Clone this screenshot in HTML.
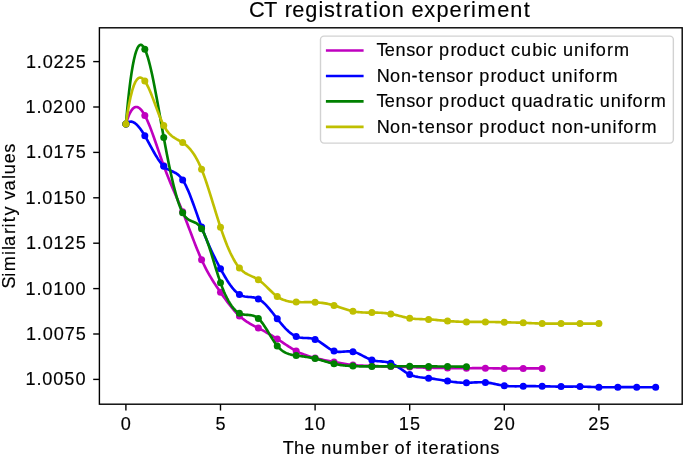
<!DOCTYPE html>
<html><head><meta charset="utf-8"><style>
html,body{margin:0;padding:0;background:#fff;}
body{width:685px;height:457px;overflow:hidden;font-family:"Liberation Sans", sans-serif;}
svg{display:block;will-change:transform;}
</style></head><body>
<svg width="685" height="457" viewBox="0 0 685 457">
<rect x="0" y="0" width="685" height="457" fill="#fff"/>
<defs><clipPath id="c"><rect x="99.4" y="27.8" width="582.8000000000001" height="376.4"/></clipPath></defs>
<g clip-path="url(#c)">
<polyline points="125.90,124.00 127.29,119.51 128.68,115.77 130.08,112.73 131.47,110.37 132.86,108.64 134.25,107.53 135.64,106.99 137.04,106.99 138.43,107.50 139.82,108.49 141.21,109.91 142.61,111.74 144.00,113.94 145.39,116.48 146.78,119.32 148.17,122.44 149.57,125.80 150.96,129.36 152.35,133.10 153.74,136.97 155.13,140.94 156.53,144.99 157.92,149.07 159.31,153.16 160.70,157.22 162.09,161.21 163.49,165.10 164.88,168.87 166.27,172.52 167.66,176.06 169.06,179.51 170.45,182.88 171.84,186.20 173.23,189.47 174.62,192.72 176.02,195.96 177.41,199.21 178.80,202.48 180.19,205.78 181.58,209.15 182.98,212.59 184.37,216.11 185.76,219.69 187.15,223.32 188.54,226.98 189.94,230.65 191.33,234.32 192.72,237.98 194.11,241.60 195.51,245.16 196.90,248.66 198.29,252.07 199.68,255.38 201.07,258.57 202.47,261.63 203.86,264.55 205.25,267.34 206.64,270.02 208.03,272.59 209.43,275.06 210.82,277.44 212.21,279.74 213.60,281.97 214.99,284.14 216.39,286.26 217.78,288.33 219.17,290.37 220.56,292.39 221.96,294.39 223.35,296.37 224.74,298.32 226.13,300.24 227.52,302.13 228.92,303.97 230.31,305.76 231.70,307.50 233.09,309.18 234.48,310.79 235.88,312.33 237.27,313.80 238.66,315.18 240.05,316.48 241.44,317.69 242.84,318.82 244.23,319.88 245.62,320.87 247.01,321.80 248.41,322.68 249.80,323.52 251.19,324.32 252.58,325.09 253.97,325.83 255.37,326.56 256.76,327.28 258.15,328.00 259.54,328.73 260.93,329.46 262.33,330.20 263.72,330.94 265.11,331.70 266.50,332.47 267.89,333.25 269.29,334.05 270.68,334.86 272.07,335.68 273.46,336.52 274.86,337.38 276.25,338.25 277.64,339.15 279.03,340.06 280.42,340.98 281.82,341.92 283.21,342.86 284.60,343.80 285.99,344.73 287.38,345.66 288.78,346.57 290.17,347.46 291.56,348.34 292.95,349.18 294.34,349.99 295.74,350.76 297.13,351.49 298.52,352.19 299.91,352.84 301.31,353.45 302.70,354.03 304.09,354.58 305.48,355.09 306.87,355.58 308.27,356.04 309.66,356.48 311.05,356.90 312.44,357.29 313.83,357.67 315.23,358.03 316.62,358.38 318.01,358.72 319.40,359.04 320.79,359.36 322.19,359.66 323.58,359.96 324.97,360.25 326.36,360.53 327.76,360.81 329.15,361.08 330.54,361.34 331.93,361.61 333.32,361.87 334.72,362.13 336.11,362.39 337.50,362.65 338.89,362.90 340.28,363.15 341.68,363.39 343.07,363.63 344.46,363.86 345.85,364.07 347.25,364.28 348.64,364.48 350.03,364.66 351.42,364.83 352.81,364.99 354.21,365.13 355.60,365.25 356.99,365.36 358.38,365.45 359.77,365.54 361.17,365.62 362.56,365.68 363.95,365.74 365.34,365.79 366.73,365.84 368.13,365.89 369.52,365.93 370.91,365.97 372.30,366.01 373.70,366.06 375.09,366.10 376.48,366.15 377.87,366.19 379.26,366.24 380.66,366.28 382.05,366.33 383.44,366.37 384.83,366.42 386.22,366.46 387.62,366.51 389.01,366.55 390.40,366.59 391.79,366.63 393.18,366.67 394.58,366.70 395.97,366.74 397.36,366.77 398.75,366.81 400.15,366.84 401.54,366.88 402.93,366.91 404.32,366.95 405.71,366.99 407.11,367.02 408.50,367.06 409.89,367.11 411.28,367.15 412.67,367.19 414.07,367.24 415.46,367.29 416.85,367.33 418.24,367.38 419.63,367.43 421.03,367.48 422.42,367.52 423.81,367.56 425.20,367.61 426.60,367.65 427.99,367.68 429.38,367.72 430.77,367.75 432.16,367.78 433.56,367.81 434.95,367.83 436.34,367.85 437.73,367.87 439.12,367.89 440.52,367.91 441.91,367.93 443.30,367.95 444.69,367.96 446.08,367.98 447.48,368.00 448.87,368.02 450.26,368.04 451.65,368.06 453.05,368.07 454.44,368.09 455.83,368.11 457.22,368.13 458.61,368.14 460.01,368.16 461.40,368.17 462.79,368.18 464.18,368.19 465.57,368.20 466.97,368.20 468.36,368.20 469.75,368.20 471.14,368.20 472.53,368.19 473.93,368.19 475.32,368.19 476.71,368.18 478.10,368.18 479.50,368.18 480.89,368.18 482.28,368.18 483.67,368.19 485.06,368.20 486.46,368.21 487.85,368.23 489.24,368.25 490.63,368.27 492.02,368.30 493.42,368.32 494.81,368.35 496.20,368.38 497.59,368.40 498.98,368.43 500.38,368.45 501.77,368.47 503.16,368.49 504.55,368.50 505.95,368.51 507.34,368.52 508.73,368.52 510.12,368.51 511.51,368.51 512.91,368.50 514.30,368.49 515.69,368.48 517.08,368.47 518.47,368.45 519.87,368.44 521.26,368.42 522.65,368.41 524.04,368.39 525.43,368.38 526.83,368.36 528.22,368.35 529.61,368.34 531.00,368.34 532.40,368.33 533.79,368.33 535.18,368.33 536.57,368.34 537.96,368.34 539.36,368.36 540.75,368.38 542.14,368.40" fill="none" stroke="#bf00bf" stroke-width="2.65" stroke-linejoin="round" stroke-linecap="butt"/>
<circle cx="125.90" cy="124.00" r="3.5" fill="#bf00bf"/>
<circle cx="144.82" cy="115.40" r="3.5" fill="#bf00bf"/>
<circle cx="163.74" cy="165.80" r="3.5" fill="#bf00bf"/>
<circle cx="182.66" cy="211.80" r="3.5" fill="#bf00bf"/>
<circle cx="201.58" cy="259.70" r="3.5" fill="#bf00bf"/>
<circle cx="220.50" cy="292.30" r="3.5" fill="#bf00bf"/>
<circle cx="239.42" cy="315.90" r="3.5" fill="#bf00bf"/>
<circle cx="258.34" cy="328.10" r="3.5" fill="#bf00bf"/>
<circle cx="277.26" cy="338.90" r="3.5" fill="#bf00bf"/>
<circle cx="296.18" cy="351.00" r="3.5" fill="#bf00bf"/>
<circle cx="315.10" cy="358.00" r="3.5" fill="#bf00bf"/>
<circle cx="334.02" cy="362.00" r="3.5" fill="#bf00bf"/>
<circle cx="352.94" cy="365.00" r="3.5" fill="#bf00bf"/>
<circle cx="371.86" cy="366.00" r="3.5" fill="#bf00bf"/>
<circle cx="390.78" cy="366.60" r="3.5" fill="#bf00bf"/>
<circle cx="409.70" cy="367.10" r="3.5" fill="#bf00bf"/>
<circle cx="428.62" cy="367.70" r="3.5" fill="#bf00bf"/>
<circle cx="447.54" cy="368.00" r="3.5" fill="#bf00bf"/>
<circle cx="466.46" cy="368.20" r="3.5" fill="#bf00bf"/>
<circle cx="485.38" cy="368.20" r="3.5" fill="#bf00bf"/>
<circle cx="504.30" cy="368.50" r="3.5" fill="#bf00bf"/>
<circle cx="523.22" cy="368.40" r="3.5" fill="#bf00bf"/>
<circle cx="542.14" cy="368.40" r="3.5" fill="#bf00bf"/>
<polyline points="125.90,124.00 127.67,122.54 129.44,121.77 131.22,121.62 132.99,122.06 134.76,123.02 136.53,124.45 138.30,126.30 140.07,128.51 141.85,131.03 143.62,133.80 145.39,136.77 147.16,139.89 148.93,143.11 150.70,146.36 152.48,149.60 154.25,152.76 156.02,155.81 157.79,158.67 159.56,161.31 161.34,163.66 163.11,165.67 164.88,167.30 166.65,168.57 168.42,169.59 170.19,170.45 171.97,171.24 173.74,172.05 175.51,172.98 177.28,174.13 179.05,175.59 180.82,177.45 182.60,179.81 184.37,182.73 186.14,186.18 187.91,190.08 189.68,194.35 191.46,198.92 193.23,203.72 195.00,208.66 196.77,213.68 198.54,218.71 200.31,223.65 202.09,228.45 203.86,233.06 205.63,237.48 207.40,241.72 209.17,245.80 210.95,249.73 212.72,253.51 214.49,257.18 216.26,260.72 218.03,264.16 219.80,267.51 221.58,270.77 223.35,273.95 225.12,277.01 226.89,279.93 228.66,282.68 230.43,285.25 232.21,287.61 233.98,289.73 235.75,291.59 237.52,293.16 239.29,294.42 241.07,295.36 242.84,296.02 244.61,296.46 246.38,296.74 248.15,296.91 249.92,297.04 251.70,297.19 253.47,297.41 255.24,297.77 257.01,298.32 258.78,299.13 260.55,300.22 262.33,301.57 264.10,303.14 265.87,304.91 267.64,306.85 269.41,308.91 271.19,311.07 272.96,313.30 274.73,315.57 276.50,317.84 278.27,320.07 280.04,322.26 281.82,324.37 283.59,326.40 285.36,328.31 287.13,330.09 288.90,331.73 290.67,333.20 292.45,334.48 294.22,335.56 295.99,336.42 297.76,337.05 299.53,337.47 301.31,337.73 303.08,337.88 304.85,337.96 306.62,338.02 308.39,338.10 310.16,338.25 311.94,338.51 313.71,338.93 315.48,339.55 317.25,340.40 319.02,341.43 320.79,342.59 322.57,343.85 324.34,345.15 326.11,346.44 327.88,347.69 329.65,348.85 331.43,349.86 333.20,350.69 334.97,351.29 336.74,351.66 338.51,351.84 340.28,351.87 342.06,351.80 343.83,351.68 345.60,351.53 347.37,351.42 349.14,351.37 350.92,351.43 352.69,351.65 354.46,352.06 356.23,352.65 358.00,353.38 359.77,354.21 361.55,355.11 363.32,356.05 365.09,356.99 366.86,357.90 368.63,358.75 370.40,359.49 372.18,360.10 373.95,360.55 375.72,360.88 377.49,361.11 379.26,361.29 381.04,361.44 382.81,361.59 384.58,361.78 386.35,362.03 388.12,362.40 389.89,362.89 391.67,363.55 393.44,364.38 395.21,365.35 396.98,366.42 398.75,367.57 400.52,368.75 402.30,369.96 404.07,371.14 405.84,372.27 407.61,373.31 409.38,374.25 411.16,375.04 412.93,375.70 414.70,376.23 416.47,376.67 418.24,377.02 420.01,377.29 421.79,377.52 423.56,377.71 425.33,377.88 427.10,378.05 428.87,378.23 430.64,378.44 432.42,378.67 434.19,378.92 435.96,379.19 437.73,379.47 439.50,379.77 441.28,380.06 443.05,380.36 444.82,380.66 446.59,380.95 448.36,381.23 450.13,381.49 451.91,381.74 453.68,381.97 455.45,382.18 457.22,382.37 458.99,382.52 460.77,382.64 462.54,382.73 464.31,382.79 466.08,382.80 467.85,382.78 469.62,382.71 471.40,382.63 473.17,382.53 474.94,382.43 476.71,382.34 478.48,382.27 480.25,382.23 482.03,382.24 483.80,382.30 485.57,382.42 487.34,382.61 489.11,382.86 490.89,383.16 492.66,383.49 494.43,383.85 496.20,384.22 497.97,384.58 499.74,384.94 501.52,385.27 503.29,385.56 505.06,385.80 506.83,385.98 508.60,386.12 510.37,386.21 512.15,386.27 513.92,386.30 515.69,386.30 517.46,386.29 519.23,386.27 521.01,386.24 522.78,386.21 524.55,386.18 526.32,386.17 528.09,386.16 529.86,386.16 531.64,386.17 533.41,386.18 535.18,386.19 536.95,386.22 538.72,386.24 540.49,386.27 542.27,386.30 544.04,386.34 545.81,386.37 547.58,386.41 549.35,386.44 551.13,386.48 552.90,386.51 554.67,386.54 556.44,386.56 558.21,386.58 559.98,386.60 561.76,386.60 563.53,386.60 565.30,386.59 567.07,386.58 568.84,386.57 570.61,386.56 572.39,386.56 574.16,386.55 575.93,386.56 577.70,386.57 579.47,386.59 581.25,386.63 583.02,386.67 584.79,386.73 586.56,386.79 588.33,386.85 590.10,386.92 591.88,386.98 593.65,387.05 595.42,387.11 597.19,387.16 598.96,387.20 600.74,387.23 602.51,387.25 604.28,387.26 606.05,387.27 607.82,387.27 609.59,387.26 611.37,387.25 613.14,387.23 614.91,387.22 616.68,387.21 618.45,387.20 620.22,387.19 622.00,387.18 623.77,387.18 625.54,387.18 627.31,387.18 629.08,387.18 630.86,387.18 632.63,387.19 634.40,387.19 636.17,387.20 637.94,387.20 639.71,387.21 641.49,387.21 643.26,387.22 645.03,387.22 646.80,387.22 648.57,387.22 650.34,387.22 652.12,387.22 653.89,387.21 655.66,387.20" fill="none" stroke="#0000ff" stroke-width="2.65" stroke-linejoin="round" stroke-linecap="butt"/>
<circle cx="125.90" cy="124.00" r="3.5" fill="#0000ff"/>
<circle cx="144.82" cy="135.80" r="3.5" fill="#0000ff"/>
<circle cx="163.74" cy="166.30" r="3.5" fill="#0000ff"/>
<circle cx="182.66" cy="179.90" r="3.5" fill="#0000ff"/>
<circle cx="201.58" cy="227.10" r="3.5" fill="#0000ff"/>
<circle cx="220.50" cy="268.80" r="3.5" fill="#0000ff"/>
<circle cx="239.42" cy="294.50" r="3.5" fill="#0000ff"/>
<circle cx="258.34" cy="298.90" r="3.5" fill="#0000ff"/>
<circle cx="277.26" cy="318.80" r="3.5" fill="#0000ff"/>
<circle cx="296.18" cy="336.50" r="3.5" fill="#0000ff"/>
<circle cx="315.10" cy="339.40" r="3.5" fill="#0000ff"/>
<circle cx="334.02" cy="351.00" r="3.5" fill="#0000ff"/>
<circle cx="352.94" cy="351.70" r="3.5" fill="#0000ff"/>
<circle cx="371.86" cy="360.00" r="3.5" fill="#0000ff"/>
<circle cx="390.78" cy="363.20" r="3.5" fill="#0000ff"/>
<circle cx="409.70" cy="374.40" r="3.5" fill="#0000ff"/>
<circle cx="428.62" cy="378.20" r="3.5" fill="#0000ff"/>
<circle cx="447.54" cy="381.10" r="3.5" fill="#0000ff"/>
<circle cx="466.46" cy="382.80" r="3.5" fill="#0000ff"/>
<circle cx="485.38" cy="382.40" r="3.5" fill="#0000ff"/>
<circle cx="504.30" cy="385.70" r="3.5" fill="#0000ff"/>
<circle cx="523.22" cy="386.20" r="3.5" fill="#0000ff"/>
<circle cx="542.14" cy="386.30" r="3.5" fill="#0000ff"/>
<circle cx="561.06" cy="386.60" r="3.5" fill="#0000ff"/>
<circle cx="579.98" cy="386.60" r="3.5" fill="#0000ff"/>
<circle cx="598.90" cy="387.20" r="3.5" fill="#0000ff"/>
<circle cx="617.82" cy="387.20" r="3.5" fill="#0000ff"/>
<circle cx="636.74" cy="387.20" r="3.5" fill="#0000ff"/>
<circle cx="655.66" cy="387.20" r="3.5" fill="#0000ff"/>
<polyline points="125.90,124.00 127.04,111.29 128.18,99.83 129.32,89.60 130.46,80.54 131.59,72.61 132.73,65.78 133.87,59.98 135.01,55.20 136.15,51.37 137.29,48.46 138.43,46.42 139.57,45.22 140.71,44.80 141.85,45.13 142.98,46.17 144.12,47.86 145.26,50.17 146.40,53.05 147.54,56.47 148.68,60.37 149.82,64.72 150.96,69.47 152.10,74.58 153.24,80.01 154.37,85.71 155.51,91.64 156.65,97.76 157.79,104.02 158.93,110.38 160.07,116.81 161.21,123.25 162.35,129.66 163.49,136.00 164.63,142.24 165.76,148.33 166.90,154.28 168.04,160.07 169.18,165.67 170.32,171.07 171.46,176.27 172.60,181.23 173.74,185.96 174.88,190.42 176.02,194.61 177.15,198.51 178.29,202.11 179.43,205.39 180.57,208.33 181.71,210.92 182.85,213.14 183.99,215.00 185.13,216.53 186.27,217.77 187.41,218.78 188.54,219.58 189.68,220.23 190.82,220.77 191.96,221.25 193.10,221.70 194.24,222.18 195.38,222.72 196.52,223.37 197.66,224.17 198.80,225.16 199.93,226.40 201.07,227.92 202.21,229.77 203.35,231.94 204.49,234.41 205.63,237.15 206.77,240.12 207.91,243.30 209.05,246.64 210.19,250.13 211.32,253.72 212.46,257.39 213.60,261.10 214.74,264.82 215.88,268.53 217.02,272.18 218.16,275.75 219.30,279.21 220.44,282.52 221.58,285.66 222.71,288.62 223.85,291.41 224.99,294.02 226.13,296.46 227.27,298.74 228.41,300.85 229.55,302.79 230.69,304.58 231.83,306.21 232.97,307.68 234.10,309.00 235.24,310.17 236.38,311.19 237.52,312.06 238.66,312.79 239.80,313.38 240.94,313.84 242.08,314.18 243.22,314.43 244.36,314.60 245.49,314.73 246.63,314.81 247.77,314.89 248.91,314.97 250.05,315.08 251.19,315.23 252.33,315.45 253.47,315.76 254.61,316.17 255.75,316.70 256.88,317.38 258.02,318.23 259.16,319.26 260.30,320.47 261.44,321.83 262.58,323.33 263.72,324.95 264.86,326.66 266.00,328.45 267.14,330.29 268.27,332.17 269.41,334.06 270.55,335.95 271.69,337.81 272.83,339.63 273.97,341.39 275.11,343.05 276.25,344.62 277.39,346.05 278.53,347.35 279.66,348.51 280.80,349.55 281.94,350.47 283.08,351.28 284.22,351.99 285.36,352.61 286.50,353.14 287.64,353.60 288.78,354.00 289.92,354.33 291.05,354.61 292.19,354.86 293.33,355.07 294.47,355.25 295.61,355.42 296.75,355.58 297.89,355.74 299.03,355.89 300.17,356.05 301.31,356.20 302.44,356.36 303.58,356.52 304.72,356.68 305.86,356.85 307.00,357.03 308.14,357.22 309.28,357.41 310.42,357.62 311.56,357.83 312.70,358.07 313.83,358.31 314.97,358.57 316.11,358.85 317.25,359.14 318.39,359.44 319.53,359.76 320.67,360.08 321.81,360.41 322.95,360.75 324.09,361.09 325.22,361.42 326.36,361.76 327.50,362.09 328.64,362.41 329.78,362.73 330.92,363.04 332.06,363.33 333.20,363.61 334.34,363.87 335.48,364.11 336.61,364.34 337.75,364.55 338.89,364.74 340.03,364.92 341.17,365.08 342.31,365.23 343.45,365.37 344.59,365.49 345.73,365.61 346.87,365.71 348.00,365.80 349.14,365.88 350.28,365.96 351.42,366.02 352.56,366.08 353.70,366.13 354.84,366.18 355.98,366.22 357.12,366.26 358.26,366.29 359.39,366.32 360.53,366.34 361.67,366.36 362.81,366.37 363.95,366.39 365.09,366.39 366.23,366.40 367.37,366.40 368.51,366.40 369.65,366.40 370.78,366.40 371.92,366.40 373.06,366.40 374.20,366.39 375.34,366.39 376.48,366.38 377.62,366.38 378.76,366.37 379.90,366.36 381.04,366.35 382.17,366.35 383.31,366.34 384.45,366.33 385.59,366.33 386.73,366.32 387.87,366.31 389.01,366.31 390.15,366.30 391.29,366.30 392.43,366.29 393.56,366.29 394.70,366.29 395.84,366.29 396.98,366.28 398.12,366.28 399.26,366.28 400.40,366.28 401.54,366.28 402.68,366.28 403.82,366.28 404.95,366.29 406.09,366.29 407.23,366.29 408.37,366.30 409.51,366.30 410.65,366.30 411.79,366.31 412.93,366.31 414.07,366.32 415.21,366.32 416.34,366.33 417.48,366.34 418.62,366.34 419.76,366.35 420.90,366.36 422.04,366.36 423.18,366.37 424.32,366.38 425.46,366.38 426.60,366.39 427.73,366.40 428.87,366.40 430.01,366.41 431.15,366.41 432.29,366.42 433.43,366.42 434.57,366.43 435.71,366.44 436.85,366.44 437.99,366.45 439.12,366.45 440.26,366.46 441.40,366.46 442.54,366.47 443.68,366.48 444.82,366.48 445.96,366.49 447.10,366.50 448.24,366.50 449.38,366.51 450.51,366.52 451.65,366.53 452.79,366.54 453.93,366.55 455.07,366.56 456.21,366.57 457.35,366.58 458.49,366.59 459.63,366.61 460.77,366.62 461.90,366.63 463.04,366.65 464.18,366.67 465.32,366.68 466.46,366.70" fill="none" stroke="#008000" stroke-width="2.65" stroke-linejoin="round" stroke-linecap="butt"/>
<circle cx="125.90" cy="124.00" r="3.5" fill="#008000"/>
<circle cx="144.82" cy="49.20" r="3.5" fill="#008000"/>
<circle cx="163.74" cy="137.40" r="3.5" fill="#008000"/>
<circle cx="182.66" cy="212.80" r="3.5" fill="#008000"/>
<circle cx="201.58" cy="228.70" r="3.5" fill="#008000"/>
<circle cx="220.50" cy="282.70" r="3.5" fill="#008000"/>
<circle cx="239.42" cy="313.20" r="3.5" fill="#008000"/>
<circle cx="258.34" cy="318.50" r="3.5" fill="#008000"/>
<circle cx="277.26" cy="345.90" r="3.5" fill="#008000"/>
<circle cx="296.18" cy="355.50" r="3.5" fill="#008000"/>
<circle cx="315.10" cy="358.60" r="3.5" fill="#008000"/>
<circle cx="334.02" cy="363.80" r="3.5" fill="#008000"/>
<circle cx="352.94" cy="366.10" r="3.5" fill="#008000"/>
<circle cx="371.86" cy="366.40" r="3.5" fill="#008000"/>
<circle cx="390.78" cy="366.30" r="3.5" fill="#008000"/>
<circle cx="409.70" cy="366.30" r="3.5" fill="#008000"/>
<circle cx="428.62" cy="366.40" r="3.5" fill="#008000"/>
<circle cx="447.54" cy="366.50" r="3.5" fill="#008000"/>
<circle cx="466.46" cy="366.70" r="3.5" fill="#008000"/>
<polyline points="125.90,124.00 127.48,113.28 129.06,104.16 130.65,96.55 132.23,90.37 133.81,85.51 135.39,81.90 136.97,79.44 138.56,78.03 140.14,77.59 141.72,78.03 143.30,79.26 144.88,81.19 146.47,83.72 148.05,86.77 149.63,90.25 151.21,94.06 152.79,98.11 154.37,102.32 155.96,106.59 157.54,110.84 159.12,114.97 160.70,118.89 162.28,122.51 163.87,125.74 165.45,128.53 167.03,130.89 168.61,132.89 170.19,134.58 171.78,135.99 173.36,137.20 174.94,138.23 176.52,139.16 178.10,140.02 179.69,140.86 181.27,141.75 182.85,142.72 184.43,143.83 186.01,145.08 187.60,146.51 189.18,148.13 190.76,149.95 192.34,151.99 193.92,154.27 195.51,156.82 197.09,159.64 198.67,162.75 200.25,166.17 201.83,169.92 203.42,174.01 205.00,178.38 206.58,183.00 208.16,187.82 209.74,192.80 211.32,197.89 212.91,203.05 214.49,208.22 216.07,213.38 217.65,218.46 219.23,223.44 220.82,228.25 222.40,232.87 223.98,237.28 225.56,241.48 227.14,245.46 228.73,249.21 230.31,252.72 231.89,255.99 233.47,259.00 235.05,261.75 236.64,264.23 238.22,266.42 239.80,268.33 241.38,269.96 242.96,271.34 244.55,272.51 246.13,273.51 247.71,274.38 249.29,275.16 250.87,275.88 252.46,276.59 254.04,277.31 255.62,278.10 257.20,278.98 258.78,280.00 260.36,281.17 261.95,282.48 263.53,283.88 265.11,285.37 266.69,286.90 268.27,288.46 269.86,290.02 271.44,291.55 273.02,293.02 274.60,294.42 276.18,295.70 277.77,296.85 279.35,297.86 280.93,298.72 282.51,299.46 284.09,300.08 285.68,300.60 287.26,301.02 288.84,301.35 290.42,301.62 292.00,301.81 293.59,301.95 295.17,302.05 296.75,302.12 298.33,302.16 299.91,302.19 301.50,302.20 303.08,302.20 304.66,302.19 306.24,302.18 307.82,302.17 309.41,302.17 310.99,302.18 312.57,302.21 314.15,302.26 315.73,302.33 317.31,302.43 318.90,302.56 320.48,302.72 322.06,302.91 323.64,303.13 325.22,303.38 326.81,303.67 328.39,303.98 329.97,304.34 331.55,304.72 333.13,305.15 334.72,305.61 336.30,306.10 337.88,306.62 339.46,307.15 341.04,307.70 342.63,308.25 344.21,308.79 345.79,309.32 347.37,309.82 348.95,310.29 350.54,310.73 352.12,311.12 353.70,311.45 355.28,311.73 356.86,311.96 358.45,312.14 360.03,312.29 361.61,312.39 363.19,312.47 364.77,312.53 366.35,312.56 367.94,312.58 369.52,312.59 371.10,312.60 372.68,312.60 374.26,312.62 375.85,312.64 377.43,312.68 379.01,312.73 380.59,312.80 382.17,312.89 383.76,313.00 385.34,313.15 386.92,313.32 388.50,313.53 390.08,313.78 391.67,314.07 393.25,314.39 394.83,314.75 396.41,315.13 397.99,315.52 399.58,315.93 401.16,316.33 402.74,316.73 404.32,317.11 405.90,317.47 407.49,317.80 409.07,318.09 410.65,318.34 412.23,318.55 413.81,318.71 415.39,318.85 416.98,318.95 418.56,319.03 420.14,319.10 421.72,319.15 423.30,319.20 424.89,319.25 426.47,319.31 428.05,319.37 429.63,319.45 431.21,319.55 432.80,319.67 434.38,319.79 435.96,319.93 437.54,320.07 439.12,320.22 440.71,320.37 442.29,320.52 443.87,320.67 445.45,320.82 447.03,320.96 448.62,321.09 450.20,321.21 451.78,321.32 453.36,321.42 454.94,321.51 456.53,321.59 458.11,321.67 459.69,321.73 461.27,321.78 462.85,321.83 464.44,321.87 466.02,321.89 467.60,321.91 469.18,321.92 470.76,321.93 472.34,321.93 473.93,321.92 475.51,321.92 477.09,321.91 478.67,321.90 480.25,321.90 481.84,321.89 483.42,321.89 485.00,321.90 486.58,321.91 488.16,321.93 489.75,321.95 491.33,321.98 492.91,322.01 494.49,322.05 496.07,322.09 497.66,322.13 499.24,322.17 500.82,322.21 502.40,322.25 503.98,322.29 505.57,322.33 507.15,322.37 508.73,322.40 510.31,322.44 511.89,322.47 513.48,322.51 515.06,322.54 516.64,322.59 518.22,322.63 519.80,322.68 521.38,322.73 522.97,322.79 524.55,322.85 526.13,322.92 527.71,323.00 529.29,323.07 530.88,323.15 532.46,323.23 534.04,323.30 535.62,323.37 537.20,323.44 538.79,323.50 540.37,323.55 541.95,323.60 543.53,323.63 545.11,323.65 546.70,323.67 548.28,323.67 549.86,323.68 551.44,323.67 553.02,323.66 554.61,323.65 556.19,323.64 557.77,323.63 559.35,323.61 560.93,323.60 562.52,323.59 564.10,323.58 565.68,323.58 567.26,323.58 568.84,323.58 570.43,323.58 572.01,323.58 573.59,323.58 575.17,323.58 576.75,323.59 578.33,323.59 579.92,323.60 581.50,323.61 583.08,323.61 584.66,323.61 586.24,323.62 587.83,323.62 589.41,323.62 590.99,323.62 592.57,323.62 594.15,323.62 595.74,323.62 597.32,323.61 598.90,323.60" fill="none" stroke="#bfbf00" stroke-width="2.65" stroke-linejoin="round" stroke-linecap="butt"/>
<circle cx="125.90" cy="124.00" r="3.5" fill="#bfbf00"/>
<circle cx="144.82" cy="81.10" r="3.5" fill="#bfbf00"/>
<circle cx="163.74" cy="125.50" r="3.5" fill="#bfbf00"/>
<circle cx="182.66" cy="142.60" r="3.5" fill="#bfbf00"/>
<circle cx="201.58" cy="169.30" r="3.5" fill="#bfbf00"/>
<circle cx="220.50" cy="227.30" r="3.5" fill="#bfbf00"/>
<circle cx="239.42" cy="267.90" r="3.5" fill="#bfbf00"/>
<circle cx="258.34" cy="279.70" r="3.5" fill="#bfbf00"/>
<circle cx="277.26" cy="296.50" r="3.5" fill="#bfbf00"/>
<circle cx="296.18" cy="302.10" r="3.5" fill="#bfbf00"/>
<circle cx="315.10" cy="302.30" r="3.5" fill="#bfbf00"/>
<circle cx="334.02" cy="305.40" r="3.5" fill="#bfbf00"/>
<circle cx="352.94" cy="311.30" r="3.5" fill="#bfbf00"/>
<circle cx="371.86" cy="312.60" r="3.5" fill="#bfbf00"/>
<circle cx="390.78" cy="313.90" r="3.5" fill="#bfbf00"/>
<circle cx="409.70" cy="318.20" r="3.5" fill="#bfbf00"/>
<circle cx="428.62" cy="319.40" r="3.5" fill="#bfbf00"/>
<circle cx="447.54" cy="321.00" r="3.5" fill="#bfbf00"/>
<circle cx="466.46" cy="321.90" r="3.5" fill="#bfbf00"/>
<circle cx="485.38" cy="321.90" r="3.5" fill="#bfbf00"/>
<circle cx="504.30" cy="322.30" r="3.5" fill="#bfbf00"/>
<circle cx="523.22" cy="322.80" r="3.5" fill="#bfbf00"/>
<circle cx="542.14" cy="323.60" r="3.5" fill="#bfbf00"/>
<circle cx="561.06" cy="323.60" r="3.5" fill="#bfbf00"/>
<circle cx="579.98" cy="323.60" r="3.5" fill="#bfbf00"/>
<circle cx="598.90" cy="323.60" r="3.5" fill="#bfbf00"/>
</g>
<rect x="99.4" y="27.8" width="582.80" height="376.40" fill="none" stroke="#000" stroke-width="1.4" stroke-linejoin="miter"/>
<line x1="125.90" y1="404.2" x2="125.90" y2="410.5" stroke="#000" stroke-width="1.4"/>
<text x="120.87" y="430.00" font-family="Liberation Sans, sans-serif" stroke="#000" stroke-width="0.15" font-size="18.10" fill="#000">0</text>
<line x1="220.50" y1="404.2" x2="220.50" y2="410.5" stroke="#000" stroke-width="1.4"/>
<text x="215.49" y="430.00" font-family="Liberation Sans, sans-serif" stroke="#000" stroke-width="0.15" font-size="18.10" fill="#000">5</text>
<line x1="315.10" y1="404.2" x2="315.10" y2="410.5" stroke="#000" stroke-width="1.4"/>
<text x="304.06 315.22" y="430.00" font-family="Liberation Sans, sans-serif" stroke="#000" stroke-width="0.15" font-size="18.10" fill="#000">10</text>
<line x1="409.70" y1="404.2" x2="409.70" y2="410.5" stroke="#000" stroke-width="1.4"/>
<text x="398.84 409.94" y="430.00" font-family="Liberation Sans, sans-serif" stroke="#000" stroke-width="0.15" font-size="18.10" fill="#000">15</text>
<line x1="504.30" y1="404.2" x2="504.30" y2="410.5" stroke="#000" stroke-width="1.4"/>
<text x="493.44 504.74" y="430.00" font-family="Liberation Sans, sans-serif" stroke="#000" stroke-width="0.15" font-size="18.10" fill="#000">20</text>
<line x1="598.90" y1="404.2" x2="598.90" y2="410.5" stroke="#000" stroke-width="1.4"/>
<text x="588.22 599.45" y="430.00" font-family="Liberation Sans, sans-serif" stroke="#000" stroke-width="0.15" font-size="18.10" fill="#000">25</text>
<line x1="93.2" y1="61.60" x2="99.4" y2="61.60" stroke="#000" stroke-width="1.4"/>
<text x="25.95 36.85 42.64 53.48 64.55 75.78" y="67.60" font-family="Liberation Sans, sans-serif" stroke="#000" stroke-width="0.15" font-size="18.10" fill="#000">1.0225</text>
<line x1="93.2" y1="107.00" x2="99.4" y2="107.00" stroke="#000" stroke-width="1.4"/>
<text x="25.58 36.49 42.27 53.11 64.41 75.48" y="113.00" font-family="Liberation Sans, sans-serif" stroke="#000" stroke-width="0.15" font-size="18.10" fill="#000">1.0200</text>
<line x1="93.2" y1="152.40" x2="99.4" y2="152.40" stroke="#000" stroke-width="1.4"/>
<text x="25.95 36.85 42.64 53.62 64.74 75.78" y="158.40" font-family="Liberation Sans, sans-serif" stroke="#000" stroke-width="0.15" font-size="18.10" fill="#000">1.0175</text>
<line x1="93.2" y1="197.80" x2="99.4" y2="197.80" stroke="#000" stroke-width="1.4"/>
<text x="25.58 36.49 42.27 53.25 64.35 75.48" y="203.80" font-family="Liberation Sans, sans-serif" stroke="#000" stroke-width="0.15" font-size="18.10" fill="#000">1.0150</text>
<line x1="93.2" y1="243.20" x2="99.4" y2="243.20" stroke="#000" stroke-width="1.4"/>
<text x="25.95 36.85 42.64 53.62 64.55 75.78" y="249.20" font-family="Liberation Sans, sans-serif" stroke="#000" stroke-width="0.15" font-size="18.10" fill="#000">1.0125</text>
<line x1="93.2" y1="288.60" x2="99.4" y2="288.60" stroke="#000" stroke-width="1.4"/>
<text x="25.58 36.49 42.27 53.25 64.41 75.48" y="294.60" font-family="Liberation Sans, sans-serif" stroke="#000" stroke-width="0.15" font-size="18.10" fill="#000">1.0100</text>
<line x1="93.2" y1="334.00" x2="99.4" y2="334.00" stroke="#000" stroke-width="1.4"/>
<text x="25.95 36.85 42.64 53.71 64.74 75.78" y="340.00" font-family="Liberation Sans, sans-serif" stroke="#000" stroke-width="0.15" font-size="18.10" fill="#000">1.0075</text>
<line x1="93.2" y1="379.40" x2="99.4" y2="379.40" stroke="#000" stroke-width="1.4"/>
<text x="25.58 36.49 42.27 53.34 64.35 75.48" y="385.40" font-family="Liberation Sans, sans-serif" stroke="#000" stroke-width="0.15" font-size="18.10" fill="#000">1.0050</text>
<text x="249.06 264.07 277.39 284.81 292.29 305.18 318.49 323.95 335.71 343.96 351.05 365.30 372.97 378.63 391.69 404.62 411.38 424.15 436.54 449.51 463.03 471.03 477.52 497.13 510.18 523.83" y="16.80" font-family="Liberation Sans, sans-serif" stroke="#000" stroke-width="0.15" font-size="21.74" fill="#000">CT registration experiment</text>
<text x="282.74 294.07 304.96 315.56 321.36 332.32 343.88 360.45 371.25 382.50 389.00 394.58 405.70 411.31 417.00 422.27 428.60 439.85 445.75 457.62 464.00 468.72 479.59 490.22" y="453.80" font-family="Liberation Sans, sans-serif" stroke="#000" stroke-width="0.15" font-size="18.10" fill="#000">The number of iterations</text>
<text transform="translate(15.3,287.0) rotate(-90)" x="-1.57 10.31 15.72 32.10 36.92 41.00 52.92 59.58 64.85 71.44 81.37 87.28 96.60 108.02 112.89 123.83 134.31" y="0" font-family="Liberation Sans, sans-serif" stroke="#000" stroke-width="0.15" font-size="18.10" fill="#000">Similarity values</text>
<rect x="320.5" y="36.1" width="352.85" height="107.0" rx="3.5" ry="3.5" fill="#fff" fill-opacity="0.8" stroke="#d2d2d2" stroke-width="1.4"/>
<line x1="325.9" y1="50.50" x2="363.6" y2="50.50" stroke="#bf00bf" stroke-width="2.65"/>
<text x="376.49 384.73 395.60 406.24 415.47 426.72 433.22 439.10 450.45 456.61 467.35 478.45 489.09 499.45 505.68 511.01 520.97 532.15 543.01 547.48 557.25 562.97 574.07 585.00 590.19 595.84 607.09 614.02" y="56.40" font-family="Liberation Sans, sans-serif" stroke="#000" stroke-width="0.15" font-size="18.10" fill="#000">Tensor product cubic uniform</text>
<line x1="325.9" y1="75.95" x2="363.6" y2="75.95" stroke="#0000ff" stroke-width="2.65"/>
<text x="376.67 390.01 400.88 411.52 418.52 424.85 435.72 446.35 455.58 466.84 473.34 479.22 490.57 496.73 507.46 518.57 529.21 539.57 545.79 551.52 562.62 573.55 578.74 584.38 595.64 602.57" y="81.85" font-family="Liberation Sans, sans-serif" stroke="#000" stroke-width="0.15" font-size="18.10" fill="#000">Non-tensor product uniform</text>
<line x1="325.9" y1="101.40" x2="363.6" y2="101.40" stroke="#008000" stroke-width="2.65"/>
<text x="376.49 384.73 395.60 406.24 415.47 426.72 433.22 439.10 450.45 456.61 467.35 478.45 489.09 499.45 505.68 511.33 522.44 532.68 544.07 555.64 561.54 573.40 579.79 584.26 594.03 599.75 610.85 621.78 626.97 632.62 643.87 650.80" y="107.30" font-family="Liberation Sans, sans-serif" stroke="#000" stroke-width="0.15" font-size="18.10" fill="#000">Tensor product quadratic uniform</text>
<line x1="325.9" y1="126.85" x2="363.6" y2="126.85" stroke="#bfbf00" stroke-width="2.65"/>
<text x="376.67 390.01 400.88 411.52 418.52 424.85 435.72 446.35 455.58 466.84 473.34 479.22 490.57 496.73 507.46 518.57 529.21 539.57 545.79 551.59 562.40 573.27 583.90 590.50 601.60 612.53 617.72 623.36 634.62 641.55" y="132.75" font-family="Liberation Sans, sans-serif" stroke="#000" stroke-width="0.15" font-size="18.10" fill="#000">Non-tensor product non-uniform</text>
</svg>
</body></html>
